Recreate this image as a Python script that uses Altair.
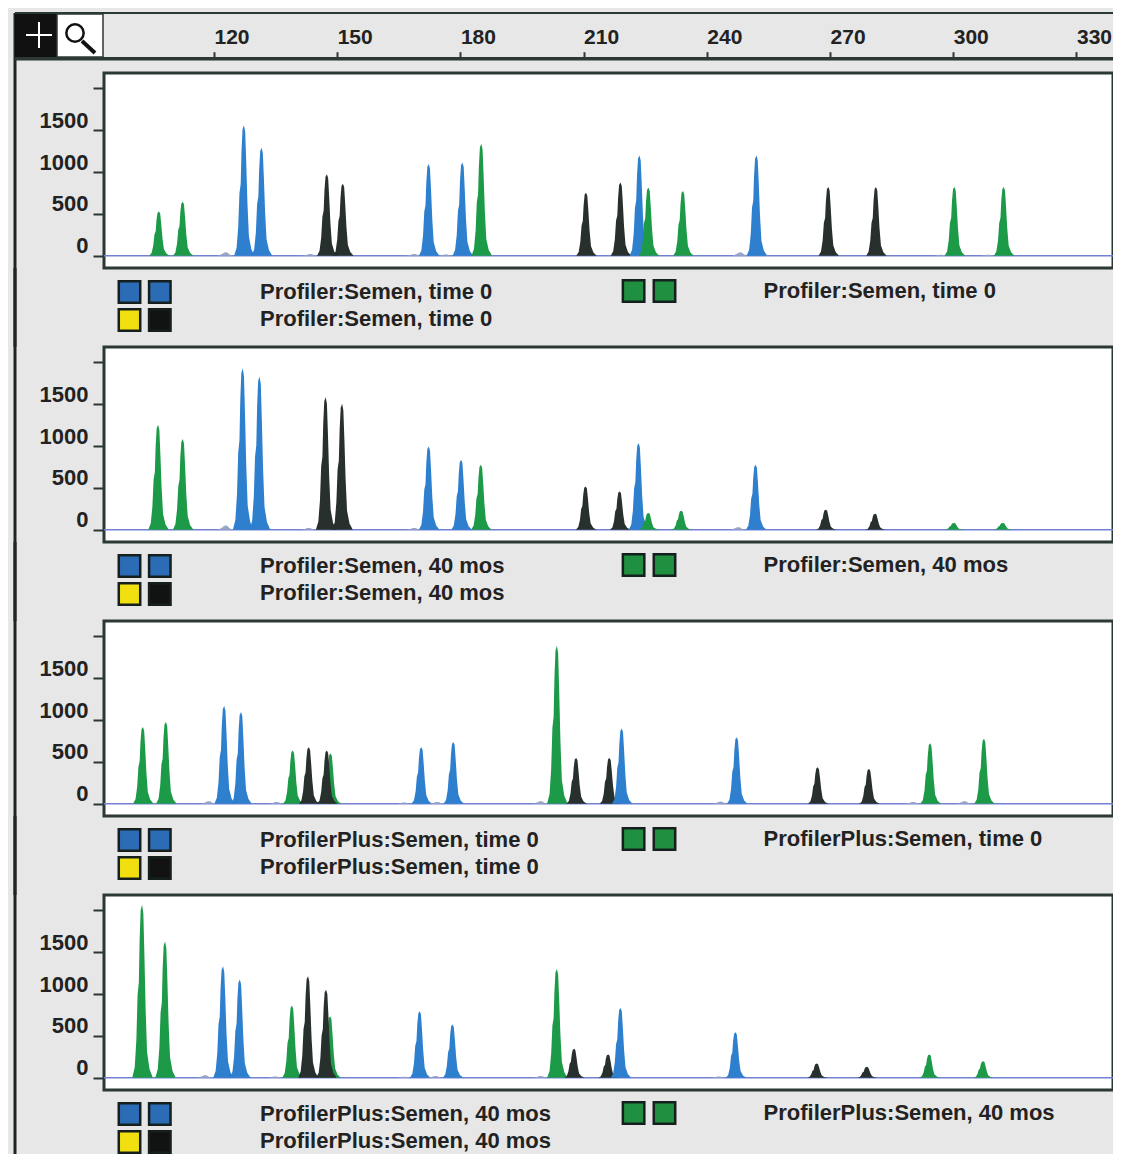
import altair as alt
import pandas as pd

# ---------------- data ----------------
X_TICKS = [120, 150, 180, 210, 240, 270, 300, 330]
Y_TICKS = [0, 500, 1000, 1500, 2000]
X_DOMAIN = [93.22, 338.9]
Y_DOMAIN = [-147, 2185]

LABELS = [
    "Profiler:Semen, time 0",
    "Profiler:Semen, 40 mos",
    "ProfilerPlus:Semen, time 0",
    "ProfilerPlus:Semen, 40 mos",
]

# dyes: B = blue, G = green, K = black, S = small baseline bump
P1_POS = [106.6, 112.4, 122.9, 127.3, 131.6, 143.5, 147.5, 151.4, 168.8, 172.3, 176.5, 180.5, 185.1,
          210.6, 219.0, 223.6, 225.8, 234.2, 248.2, 252.1, 269.6, 281.2, 297.0, 300.3, 308.5, 312.3]
P1_HGT = [530, 645, 40, 1560, 1290, 20, 975, 862, 20, 1096, 15, 1116, 1338,
          754, 875, 1197, 814, 775, 40, 1197, 822, 822, 12, 822, 12, 822]
P1_DYE = ["G", "G", "S", "B", "B", "S", "K", "K", "S", "B", "S", "B", "G",
          "K", "K", "B", "G", "G", "S", "B", "K", "K", "S", "G", "S", "G"]

P2_POS = [106.4, 112.4, 122.9, 127.0, 131.1, 143.1, 147.2, 151.2, 168.8, 172.3, 180.2, 185.0,
          210.5, 218.8, 223.4, 225.8, 233.8, 247.7, 251.9, 269.0, 281.0, 300.2, 312.1]
P2_HGT = [1254, 1084, 50, 1932, 1832, 20, 1585, 1505, 20, 996, 836, 777,
          518, 458, 1036, 200, 227, 30, 777, 240, 192, 80, 80]
P2_DYE = ["G", "G", "S", "B", "B", "S", "K", "K", "S", "B", "B", "G",
          "K", "K", "B", "G", "G", "S", "B", "K", "K", "G", "G"]

P3_POS = [102.7, 108.3, 118.8, 122.5, 126.6, 135.3, 139.2, 143.1, 148.4, 147.5, 166.3, 170.5, 174.4, 178.3,
          199.6, 203.5, 208.2, 216.3, 219.3, 243.4, 247.3, 267.0, 279.5, 290.3, 294.4, 302.8, 307.5]
P3_HGT = [918, 977, 30, 1167, 1098, 20, 636, 676, 600, 636, 15, 676, 20, 737,
          30, 1890, 547, 547, 898, 25, 796, 435, 415, 20, 724, 30, 777]
P3_DYE = ["G", "G", "S", "B", "B", "S", "G", "K", "G", "K", "S", "B", "S", "B",
          "S", "G", "K", "K", "B", "S", "B", "K", "K", "S", "G", "S", "G"]

P4_POS = [102.5, 108.1, 117.9, 122.2, 126.3, 134.9, 139.0, 142.9, 148.3, 147.3, 166.3, 170.1, 174.0, 178.1,
          199.6, 203.5, 207.7, 216.0, 219.0, 242.9, 247.0, 266.8, 279.0, 294.2, 307.3]
P4_HGT = [2068, 1630, 30, 1332, 1173, 15, 863, 1213, 735, 1053, 12, 795, 20, 636,
          20, 1300, 345, 278, 835, 15, 545, 170, 130, 278, 198]
P4_DYE = ["G", "G", "S", "B", "B", "S", "G", "K", "G", "K", "S", "B", "S", "B",
          "S", "G", "K", "K", "B", "S", "B", "K", "K", "G", "G"]

PANELS = [
    (P1_POS, P1_HGT, P1_DYE),
    (P2_POS, P2_HGT, P2_DYE),
    (P3_POS, P3_HGT, P3_DYE),
    (P4_POS, P4_HGT, P4_DYE),
]

# ---------------- style ----------------
# peak outline template (offset in bp, fraction of peak height) - a drawing style
SHAPE_DX = [-2.4, -1.8, -1.4, -1.1, -0.8, -0.6, -0.35, 0.0, 0.3, 0.55, 0.85, 1.2, 1.8, 2.6]
SHAPE_REL = [0.0, 0.06, 0.22, 0.48, 0.55, 0.8, 0.97, 1.0, 0.95, 0.72, 0.4, 0.15, 0.05, 0.0]

DYE_DOMAIN = ["S", "B", "G", "K"]
DYE_RANGE = ["#9aa6c6", "#2f7fcf", "#1c9a48", "#28302e"]

BG = "#e6e7e6"
DARK = "#2c3835"
TXT = "#222222"
FONT = "Liberation Sans"
W, H, SP = 1009, 195, 79
OX = 2  # shift of left-column decorations relative to the plot edge


def peaks_frame(pos, hgt, dye):
    rows = []
    for i, (p, h, d) in enumerate(zip(pos, hgt, dye)):
        for dx, r in zip(SHAPE_DX, SHAPE_REL):
            rows.append({"x": p + dx, "y": h * r, "dye": d, "pid": i})
    return pd.DataFrame(rows)


ONE = pd.DataFrame({"k": [0]})


def vrule(x1, y1, x2, y2, color, sw):
    return alt.Chart(ONE).mark_rule(color=color, strokeWidth=sw).encode(
        x=alt.value(x1), y=alt.value(y1), x2=alt.value(x2), y2=alt.value(y2))


def square(xc, yc, fill):
    return alt.Chart(ONE).mark_square(size=460, fill=fill, stroke="#15201e", strokeWidth=2.5,
                                      opacity=1).encode(x=alt.value(xc), y=alt.value(yc))


def label(text, xl, yc):
    return alt.Chart(pd.DataFrame({"label": [text]})).mark_text(
        font=FONT, fontSize=22, fontWeight="bold", color=TXT, align="left", baseline="middle"
    ).encode(text="label:N", x=alt.value(xl), y=alt.value(yc))


def panel(k):
    pos, hgt, dye = PANELS[k]
    df = peaks_frame(pos, hgt, dye)
    first = k == 0
    if first:
        xaxis = alt.Axis(orient="top", values=X_TICKS, format="d", offset=14.3, domain=False,
                         tickSize=7, tickWidth=2, tickColor=DARK, labelFont=FONT, labelFontSize=21,
                         labelFontWeight="bold", labelColor=TXT, labelAlign="left",
                         labelBaseline="alphabetic", labelPadding=8, labelOffset=0, grid=False,
                         title=None, labelFlush=False, labelOverlap=False)
    else:
        xaxis = None
    yaxis = alt.Axis(values=Y_TICKS, format="d",
                     labelExpr="datum.value >= 2000 ? '' : datum.label",
                     tickSize=11, tickWidth=2, tickColor=DARK, labelFont=FONT, labelFontSize=22,
                     labelFontWeight="bold", labelColor=TXT, labelPadding=5,
                     labelBaseline="alphabetic", labelOffset=-3, domain=False, grid=False, title=None)
    xenc = alt.X("x:Q", scale=alt.Scale(domain=X_DOMAIN, nice=False, zero=False), axis=xaxis)
    yenc = alt.Y("y:Q", stack=None, scale=alt.Scale(domain=Y_DOMAIN, nice=False, zero=False),
                 axis=yaxis)

    base = alt.Chart(pd.DataFrame({"y": [0]})).mark_rule(color="#7281d4", strokeWidth=1.6).encode(
        y=yenc)
    peaks = alt.Chart(df).mark_area(opacity=1, interpolate="linear", clip=True).encode(
        x=xenc, y=yenc,
        color=alt.Color("dye:N", scale=alt.Scale(domain=DYE_DOMAIN, range=DYE_RANGE), legend=None),
        detail="pid:N")

    layers = [base, peaks]

    # left frame line
    top = -60 if first else -SP
    layers.append(vrule(-91 + OX, top, -91 + OX, H + SP, "#1e2624", 3))

    if first:
        # top frame, ruler line, tool icons
        layers.append(vrule(-91 + OX, -60, W + 6, -60, DARK, 2))
        layers.append(vrule(-91 + OX, -14.3, W + 6, -14.3, DARK, 3.5))
        layers.append(alt.Chart(ONE).mark_rect(color="#111111").encode(
            x=alt.value(-91 + OX), x2=alt.value(-49 + OX), y=alt.value(-59), y2=alt.value(-16)))
        layers.append(alt.Chart(ONE).mark_rect(color="#ffffff", stroke=DARK, strokeWidth=1.5).encode(
            x=alt.value(-49 + OX), x2=alt.value(-3 + OX), y=alt.value(-59), y2=alt.value(-16)))
        layers.append(vrule(-80 + OX, -38, -54 + OX, -38, "#ffffff", 2))
        layers.append(vrule(-67 + OX, -51, -67 + OX, -25, "#ffffff", 2))
        layers.append(alt.Chart(ONE).mark_point(shape="circle", size=300, filled=False,
                                                color="#111111", strokeWidth=2.5, opacity=1).encode(
            x=alt.value(-31 + OX), y=alt.value(-40)))
        layers.append(vrule(-24 + OX, -32, -11 + OX, -20, "#111111", 4))

    # legend row under the panel
    y1, y2 = H + 24, H + 52
    layers.append(square(23.5 + OX, y1, "#2c6cb7"))
    layers.append(square(53.8 + OX, y1, "#2c6cb7"))
    layers.append(square(23.5 + OX, y2, "#f0e010"))
    layers.append(square(53.8 + OX, y2, "#121212"))
    layers.append(square(527.6 + OX, H + 23, "#1f8f40"))
    layers.append(square(558.5 + OX, H + 23, "#1f8f40"))
    layers.append(label(LABELS[k], 154 + OX, H + 24))
    layers.append(label(LABELS[k], 154 + OX, H + 51))
    layers.append(label(LABELS[k], 657.6 + OX, H + 23))

    return alt.layer(*layers).properties(width=W, height=H)


chart = alt.VConcatChart(
    vconcat=[panel(k) for k in range(4)], spacing=SP, bounds="flush"
).properties(
    padding={"left": 96, "top": 65, "right": 0, "bottom": 1081},
    autosize=alt.AutoSizeParams(type="none"),
    background=BG,
).configure_view(fill="white", stroke=DARK, strokeWidth=3)

chart.save("out.html", embed_options={"renderer": "svg", "actions": False})
